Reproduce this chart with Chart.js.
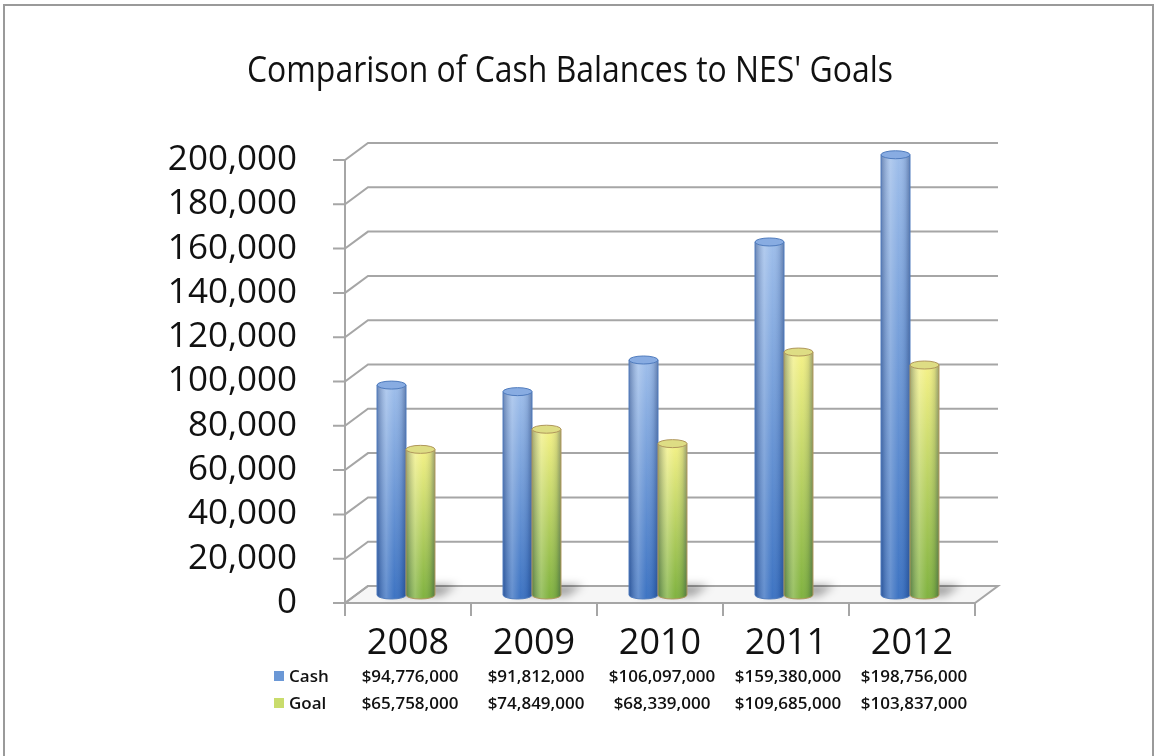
<!DOCTYPE html>
<html>
<head>
<meta charset="utf-8">
<title>Comparison of Cash Balances to NES' Goals</title>
<script src="https://cdn.jsdelivr.net/npm/chart.js@4/dist/chart.umd.min.js"></script>
<style>
  html, body { margin: 0; padding: 0; background: #fff; }
  #chart { display: block; }
</style>
</head>
<body>
<canvas id="chart" width="1158" height="756"></canvas>
<script>
// Values are in thousands of dollars, as on the axis
const categories = ['2008', '2009', '2010', '2011', '2012'];
const cashValues = [94776, 91812, 106097, 159380, 198756];
const goalValues = [65758, 74849, 68339, 109685, 103837];
const yTicks = [0, 20000, 40000, 60000, 80000, 100000, 120000, 140000, 160000, 180000, 200000];
const seriesNames = ['Cash', 'Goal'];
const chartTitle = "Comparison of Cash Balances to NES' Goals";

// 3D look: back wall offset and how far the bars sit inside the depth
const DEPTH = { dx: 23, dy: -17 };
const BAR_SHIFT = { dx: -2, dy: -8 };
const LINE = '#a6a6a6';

const palettes = [
    { top: '#9dbdea', bottom: '#3b72c2', cap: '#88ace2', edge: '#4f7bbd' },
    { top: '#f4f185', bottom: '#80b23e', cap: '#dedd84', edge: '#b0975c' }
];

function money(v) {
    return '$' + (v * 1000).toLocaleString('en-US');
}

function drawCylinder(ctx, el, pal) {
    const p = el.getProps(['x', 'y', 'base', 'width'], true);
    const rx = p.width / 2, ry = 4;
    const l = p.x - rx, r = p.x + rx;

    // body with vertical colour fade
    const vg = ctx.createLinearGradient(0, p.y, 0, p.base);
    vg.addColorStop(0, pal.top);
    vg.addColorStop(1, pal.bottom);
    ctx.beginPath();
    ctx.moveTo(l, p.y);
    ctx.lineTo(l, p.base);
    ctx.ellipse(p.x, p.base, rx, ry, 0, Math.PI, 0, true);
    ctx.lineTo(r, p.y);
    ctx.closePath();
    ctx.fillStyle = vg;
    ctx.fill();

    // round shading across the cylinder
    const hg = ctx.createLinearGradient(l, 0, r, 0);
    hg.addColorStop(0, 'rgba(10,30,80,0.35)');
    hg.addColorStop(0.32, 'rgba(255,255,255,0.22)');
    hg.addColorStop(0.6, 'rgba(255,255,255,0.02)');
    hg.addColorStop(0.85, 'rgba(10,30,80,0.12)');
    hg.addColorStop(1, 'rgba(10,30,80,0.38)');
    ctx.fillStyle = hg;
    ctx.fill();
    ctx.lineWidth = 1;
    ctx.strokeStyle = pal.edge;
    ctx.stroke();

    // top cap
    ctx.beginPath();
    ctx.ellipse(p.x, p.y, rx, ry, 0, 0, Math.PI * 2);
    ctx.fillStyle = pal.cap;
    ctx.fill();
    ctx.strokeStyle = pal.edge;
    ctx.stroke();
}

const chart3d = {
    id: 'chart3d',
    beforeDraw(chart) {
        const ctx = chart.ctx;
        ctx.save();
        ctx.fillStyle = '#fff';
        ctx.fillRect(0, 0, chart.width, chart.height);
        // frame round the picture
        ctx.strokeStyle = '#9a9a9a';
        ctx.lineWidth = 2;
        ctx.strokeRect(4, 5, 1149, 800);
        // title, squeezed to the width of the original typeface
        ctx.font = '37px "Open Sans"';
        ctx.fillStyle = '#111';
        ctx.textBaseline = 'alphabetic';
        const w = ctx.measureText(chartTitle).width;
        ctx.translate(247, 82);
        ctx.scale(646 / w, 1);
        ctx.fillText(chartTitle, 0, 0);
        ctx.restore();
    },
    beforeDatasetsDraw(chart) {
        const ctx = chart.ctx;
        const { left, right, top, bottom } = chart.chartArea;
        const y = chart.scales.y;
        ctx.save();
        ctx.lineWidth = 2;
        ctx.strokeStyle = LINE;

        // floor
        ctx.beginPath();
        ctx.moveTo(left, bottom);
        ctx.lineTo(right, bottom);
        ctx.lineTo(right + DEPTH.dx, bottom + DEPTH.dy);
        ctx.lineTo(left + DEPTH.dx, bottom + DEPTH.dy);
        ctx.closePath();
        ctx.fillStyle = '#f6f6f6';
        ctx.fill();
        ctx.stroke();

        // back wall gridlines with their slanted side wall part
        yTicks.forEach(v => {
            const py = y.getPixelForValue(v);
            ctx.beginPath();
            ctx.moveTo(left - 12, py);
            ctx.lineTo(left, py);
            ctx.lineTo(left + DEPTH.dx, py + DEPTH.dy);
            ctx.lineTo(right + DEPTH.dx, py + DEPTH.dy);
            ctx.stroke();
        });
        // left axis
        ctx.beginPath();
        ctx.moveTo(left, top);
        ctx.lineTo(left, bottom);
        ctx.stroke();
        // category ticks under the floor
        for (let i = 0; i <= categories.length; i++) {
            const px = left + (right - left) * i / categories.length;
            ctx.beginPath();
            ctx.moveTo(px, bottom);
            ctx.lineTo(px, bottom + 13);
            ctx.stroke();
        }

        // soft shadows of the bars on the floor
        const m0 = chart.getDatasetMeta(0).data, m1 = chart.getDatasetMeta(1).data;
        ctx.filter = 'blur(4px)';
        ctx.fillStyle = 'rgba(0,0,0,0.35)';
        m1.forEach((el, i) => {
            const gx = el.x + BAR_SHIFT.dx;
            const cx = m0[i].x + BAR_SHIFT.dx;
            const by = el.base + BAR_SHIFT.dy;
            ctx.beginPath();
            ctx.moveTo(cx - 8, by);
            ctx.lineTo(gx + el.width / 2 + 6, by + 1);
            ctx.lineTo(gx + el.width / 2 + 22, by - 10);
            ctx.lineTo(cx + 10, by - 10);
            ctx.closePath();
            ctx.fill();
        });
        ctx.filter = 'none';
        ctx.restore();

        // bars sit halfway into the depth
        ctx.save();
        ctx.translate(BAR_SHIFT.dx, BAR_SHIFT.dy);
    },
    afterDatasetsDraw(chart) {
        const ctx = chart.ctx;
        chart.data.datasets.forEach((ds, di) => {
            chart.getDatasetMeta(di).data.forEach(el => drawCylinder(ctx, el, palettes[di]));
        });
        ctx.restore();
    },
    afterDraw(chart) {
        // data table under the category labels
        const ctx = chart.ctx;
        const x = chart.scales.x;
        const rows = [cashValues, goalValues];
        const rowY = [677, 704];
        ctx.save();
        ctx.font = '600 17px "Open Sans"';
        ctx.textBaseline = 'middle';
        rows.forEach((vals, r) => {
            ctx.fillStyle = chart.data.datasets[r].backgroundColor;
            ctx.fillRect(274, rowY[r] - 6, 10, 10);
            ctx.fillStyle = '#111';
            ctx.textAlign = 'left';
            ctx.fillText(seriesNames[r], 289, rowY[r]);
            ctx.textAlign = 'center';
            vals.forEach((v, i) => {
                ctx.fillText(money(v), x.getPixelForValue(i) + 2, rowY[r]);
            });
        });
        ctx.restore();
    }
};

new Chart(document.getElementById('chart'), {
    type: 'bar',
    data: {
        labels: categories,
        datasets: [
            { label: seriesNames[0], data: cashValues, backgroundColor: '#6b98d6', borderWidth: 0, clip: false },
            { label: seriesNames[1], data: goalValues, backgroundColor: '#c9dc6c', borderWidth: 0, clip: false }
        ]
    },
    options: {
        responsive: false,
        animation: false,
        events: [],
        layout: { padding: { left: 0, right: 183, top: 160, bottom: 0 } },
        datasets: { bar: { categoryPercentage: 0.46, barPercentage: 1 } },
        plugins: { legend: { display: false }, tooltip: { enabled: false }, title: { display: false } },
        scales: {
            x: {
                grid: { display: false },
                border: { display: false },
                ticks: { font: { family: 'Open Sans', size: 36 }, color: '#111', padding: 11 },
                afterFit: s => { s.height = 153; }
            },
            y: {
                min: 0,
                max: 200000,
                grid: { display: false },
                border: { display: false },
                afterBuildTicks: s => { s.ticks = yTicks.map(v => ({ value: v })); },
                ticks: {
                    autoSkip: false,
                    font: { family: 'Open Sans', size: 35 },
                    color: '#111',
                    padding: 40,
                    callback: v => v.toLocaleString('en-US')
                },
                afterFit: s => { s.width = 345; }
            }
        }
    },
    plugins: [chart3d]
});
</script>
</body>
</html>
